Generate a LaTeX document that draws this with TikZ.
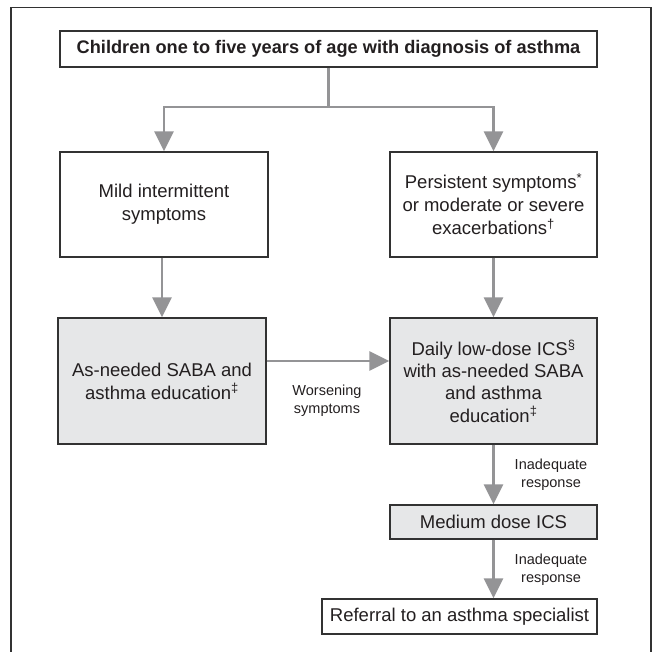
\documentclass[tikz,border=0pt]{standalone}
\usepackage{fontspec}
\setmainfont{Liberation Sans}
\usetikzlibrary{arrows.meta}
\definecolor{arrowgray}{RGB}{148,148,150}
\definecolor{boxgray}{RGB}{230,231,232}
\definecolor{edgecol}{RGB}{50,50,50}
\definecolor{txt}{RGB}{35,31,32}
\begin{document}
\begin{tikzpicture}[x=1pt,y=-1pt,
  box/.style={draw=edgecol, line width=1.3pt, fill=white, inner sep=0pt, align=center, text=txt, font=\fontsize{18.5}{23}\selectfont},
  greybox/.style={box, fill=boxgray},
  arr/.style={draw=arrowgray, line width=2.8pt, -{Triangle[length=20pt,width=19pt]}},
  conn/.style={draw=arrowgray, line width=2.8pt},
  lab/.style={text=txt, font=\fontsize{14.5}{18}\selectfont, align=center, inner sep=0pt},
  frame/.style={draw=edgecol, line width=1.3pt}]
\useasboundingbox (0,0) rectangle (658,652);
\draw[frame] (11,665) -- (11,7.5) -- (651,7.5) -- (651,665);

\node[box, minimum width=537pt, minimum height=36pt, font=\bfseries\fontsize{18.2}{22}\selectfont] (top) at (328.5,49) {Children one to five years of age with diagnosis of asthma};
\node[box, minimum width=208pt, minimum height=105pt] (mild) at (164,204.5) {Mild intermittent\\symptoms};
\node[box, minimum width=207pt, minimum height=105pt] (pers) at (493.5,204.5) {Persistent symptoms\textsuperscript{*}\\or moderate or severe\\exacerbations\textsuperscript{†}};
\node[greybox, minimum width=208pt, minimum height=126pt] (asneed) at (162,381) {As-needed SABA and\\asthma education\textsuperscript{‡}};
\node[greybox, minimum width=207pt, minimum height=126pt, font=\fontsize{18.5}{22.3}\selectfont] (daily) at (493.5,381) {Daily low-dose ICS\textsuperscript{§}\\with as-needed SABA\\and asthma\\education\textsuperscript{‡}};
\node[greybox, minimum width=207pt, minimum height=34pt] (medium) at (493.5,522) {Medium dose ICS};
\node[box, minimum width=275pt, minimum height=35pt] (referral) at (459.5,616.5) {Referral to an asthma specialist};

\coordinate (split) at (328.5,107);
\draw[conn] (top.south) -- (split);
\draw[arr] (split) -| (mild.north);
\draw[arr] (split) -| (pers.north);
\draw[arr] (asneed.north |- mild.south) -- (asneed.north);
\draw[arr] (pers.south) -- (daily.north);
\draw[arr] ([yshift=20pt]asneed.east) -- ([yshift=20pt]daily.west);
\draw[arr] (daily.south) -- (medium.north);
\draw[arr] (medium.south) -- (medium.south |- referral.north);

\node[lab] (worse) at (327,401) {Worsening\\symptoms};
\node[lab] (inad1) at (551,475) {Inadequate\\response};
\node[lab] (inad2) at (551,570) {Inadequate\\response};
\end{tikzpicture}
\end{document}
